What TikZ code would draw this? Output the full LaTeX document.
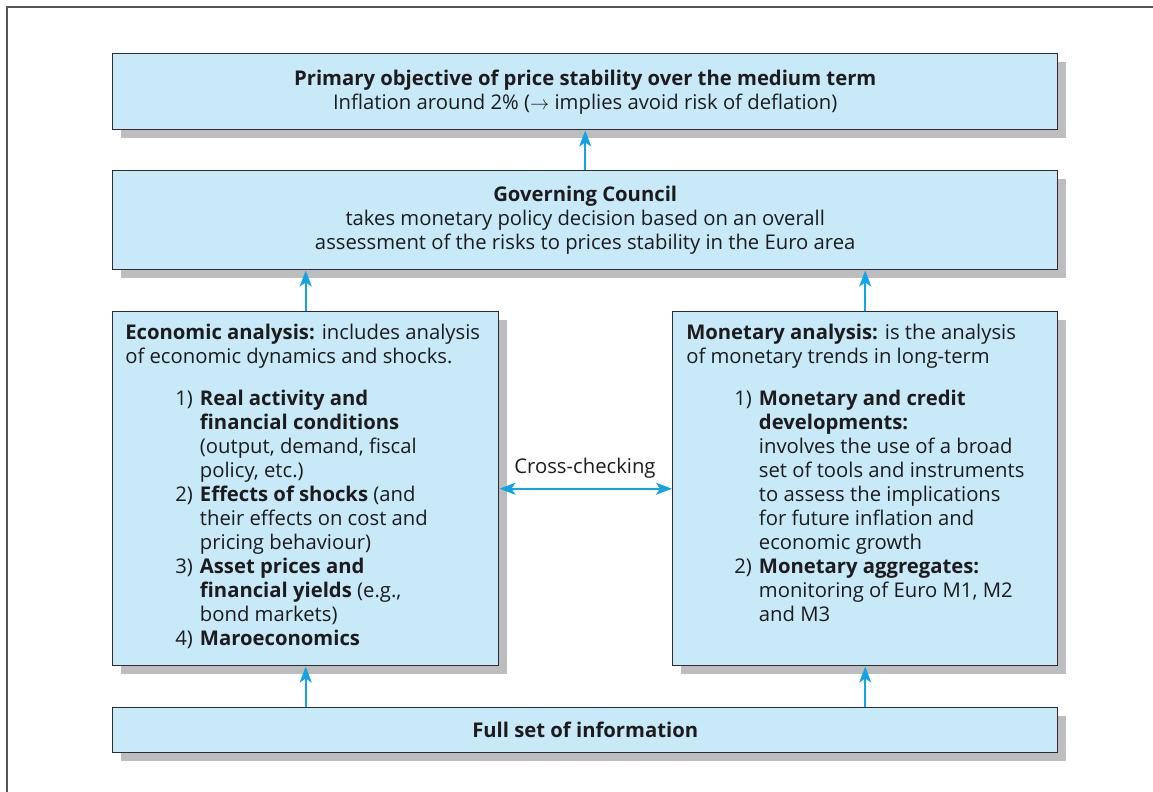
\documentclass[tikz,border=0pt]{standalone}
\usepackage{fontspec}
\setmainfont{Open Sans}
\usetikzlibrary{arrows.meta,shadows}
\definecolor{boxfill}{RGB}{199,233,248}
\definecolor{boxline}{RGB}{45,45,48}
\definecolor{shade}{RGB}{189,189,192}
\definecolor{flow}{RGB}{20,163,230}
\definecolor{ink}{RGB}{30,27,28}
\definecolor{frame}{RGB}{85,85,85}
\def\px{0.75pt}
\newcommand{\itemno}[1]{\makebox[18.5pt][l]{#1}}
\begin{document}
\begin{tikzpicture}[x=0.75pt,y=-0.75pt,
  font=\fontsize{15.2}{18}\selectfont, text=ink,
  panel/.style={draw=boxline, line width=1.1pt, fill=boxfill, inner sep=0pt,
    anchor=north west,
    drop shadow={shadow xshift=6pt, shadow yshift=-6pt, fill=shade, opacity=1}},
  flowarrow/.style={draw=flow, line width=1.5pt,
    -{Stealth[length=12pt, width=9pt, inset=3pt]}},
  crossarrow/.style={draw=flow, line width=1.5pt,
    {Stealth[length=12pt, width=9pt, inset=3pt]}-{Stealth[length=12pt, width=9pt, inset=3pt]}},
  txt/.style={inner sep=0pt, anchor=base west, align=left}]
\useasboundingbox (0,0) rectangle (1153,792);

% outer frame
\draw[frame, line width=1.5pt] (7,792) -- (7,7) -- (1153,7);

% boxes
\node[panel, minimum width=945*\px, minimum height=76*\px, align=center] (goal) at (112,53)
  {\textbf{Primary objective of price stability over the medium term}\\
   Inflation around 2\% ($\rightarrow$ implies avoid risk of deflation)};
\node[panel, minimum width=945*\px, minimum height=99*\px, align=center] (council) at (112,170)
  {\textbf{Governing Council}\\
   takes monetary policy decision based on an overall\\
   assessment of the risks to prices stability in the Euro area};
\node[panel, minimum width=386*\px, minimum height=354*\px] (econ) at (112,311) {};
\node[panel, minimum width=385*\px, minimum height=354*\px] (mon) at (672,311) {};
\node[panel, minimum width=945*\px, minimum height=45*\px] (info) at (112,707)
  {\textbf{Full set of information}};

% economic analysis text
\node[txt] (econintro) at (125,363)
  {\textbf{Economic analysis:} includes analysis\\of economic dynamics and shocks.};
\node[txt] (econlist) at (175,405)
  {\begin{tabular}[t]{@{}l@{}l@{}}
   \itemno{1)} & \textbf{Real activity and}\\
   & \textbf{financial conditions}\\
   & (output, demand, fiscal\\
   & policy, etc.)\\
   \itemno{2)} & \textbf{Effects of shocks} (and\\
   & their effects on cost and\\
   & pricing behaviour)\\
   \itemno{3)} & \textbf{Asset prices and}\\
   & \textbf{financial yields} (e.g.,\\
   & bond markets)\\
   \itemno{4)} & \textbf{Maroeconomics}
   \end{tabular}};

% monetary analysis text
\node[txt] (monintro) at (686,363)
  {\textbf{Monetary analysis:} is the analysis\\of monetary trends in long-term};
\node[txt] (monlist) at (734,405)
  {\begin{tabular}[t]{@{}l@{}l@{}}
   \itemno{1)} & \textbf{Monetary and credit}\\
   & \textbf{developments:}\\
   & involves the use of a broad\\
   & set of tools and instruments\\
   & to assess the implications\\
   & for future inflation and\\
   & economic growth\\
   \itemno{2)} & \textbf{Monetary aggregates:}\\
   & monitoring of Euro M1, M2\\
   & and M3
   \end{tabular}};

% connectors
\draw[flowarrow] (council.north) -- (goal.south);
\draw[flowarrow] (econ.north) -- (econ.north |- council.south);
\draw[flowarrow] (mon.north) -- (mon.north |- council.south);
\draw[flowarrow] (econ.south |- info.north) -- (econ.south);
\draw[flowarrow] (mon.south |- info.north) -- (mon.south);
\draw[crossarrow] (econ.east) -- (mon.west);
\node[inner sep=0pt, anchor=base] (crosslabel) at (585,473) {Cross-checking};
\end{tikzpicture}
\end{document}
